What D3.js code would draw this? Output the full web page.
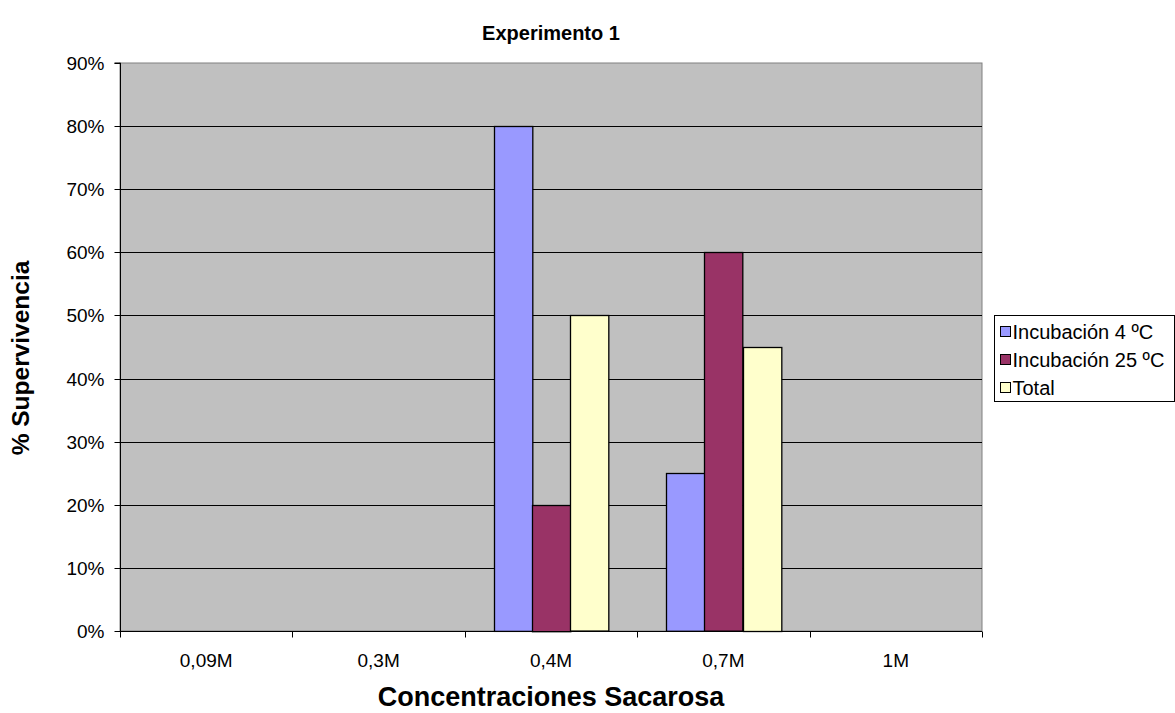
<!DOCTYPE html>
<html>
<head>
<meta charset="utf-8">
<script src="https://cdn.jsdelivr.net/npm/d3@7"></script>
<style>
  body { margin: 0; background: #fff; }
  svg { display: block; font-family: Arial, "Liberation Sans", sans-serif; }
</style>
</head>
<body>
<svg id="chart" width="1175" height="713"></svg>
<script>
// Survival per sucrose concentration, three incubation series
const categories = ["0,09M", "0,3M", "0,4M", "0,7M", "1M"];
const seriesNames = ["Incubación 4 ºC", "Incubación 25 ºC", "Total"];
const seriesColors = ["#9999FF", "#993366", "#FFFFCC"];
const incub4 = [null, null, 0.80, 0.25, null];
const incub25 = [null, null, 0.20, 0.60, null];
const total = [null, null, 0.50, 0.45, null];
const yTicks = [0, 0.1, 0.2, 0.3, 0.4, 0.5, 0.6, 0.7, 0.8, 0.9];

const seriesValues = [incub4, incub25, total];

const svg = d3.select("#chart");
const plot = { left: 120, top: 63, right: 982, bottom: 631 };

const x = d3.scaleBand().domain(categories).range([plot.left, plot.right]).paddingInner(0).paddingOuter(0);
// bars fill 3 of 4.5 bar-widths per category (gap width 150%)
const xInner = d3.scaleBand().domain(d3.range(seriesNames.length))
  .range([0, x.bandwidth()]).paddingInner(0).paddingOuter(0.75);
const y = d3.scaleLinear().domain([0, 0.9]).range([plot.bottom, plot.top]);

// plot background
svg.append("rect")
  .attr("x", plot.left).attr("y", plot.top)
  .attr("width", plot.right - plot.left).attr("height", plot.bottom - plot.top)
  .attr("fill", "#C0C0C0").attr("stroke", "#808080").attr("stroke-width", 1);

// horizontal gridlines
svg.append("g").selectAll("line").data(yTicks.filter(d => d > 0 && d < 0.9)).join("line")
  .attr("x1", plot.left).attr("x2", plot.right)
  .attr("y1", d => Math.round(y(d)) + 0.5).attr("y2", d => Math.round(y(d)) + 0.5)
  .attr("stroke", "#000").attr("stroke-width", 1);

// bars
const barData = [];
categories.forEach((c, i) => {
  seriesValues.forEach((vals, s) => {
    if (vals[i] != null) barData.push({ cat: c, s, v: vals[i] });
  });
});
svg.append("g").selectAll("rect").data(barData).join("rect")
  .attr("x", d => Math.round(x(d.cat) + xInner(d.s)) + 0.5)
  .attr("y", d => Math.round(y(d.v)) + 0.5)
  .attr("width", xInner.bandwidth())
  .attr("height", d => y(0) - y(d.v))
  .attr("fill", d => seriesColors[d.s])
  .attr("stroke", "#000").attr("stroke-width", 1.3);

// y axis
const yAxis = d3.axisLeft(y).tickValues(yTicks).tickFormat(d3.format(".0%")).tickSize(6).tickPadding(10);
const gy = svg.append("g").attr("transform", `translate(${plot.left + 0.5},0)`).call(yAxis);
gy.select(".domain").attr("stroke", "#000").attr("d", `M-6,${plot.top}H0V${plot.bottom}`);
gy.selectAll(".tick line").attr("stroke", "#000");
gy.selectAll(".tick text").attr("font-size", 19).attr("fill", "#000")
  .attr("font-family", "Arial, 'Liberation Sans', sans-serif");
gy.selectAll(".tick").attr("transform", d => `translate(0,${Math.round(y(d)) + 0.5})`);

// x axis with category separators
const gx = svg.append("g").attr("transform", `translate(0,${plot.bottom + 0.5})`);
gx.append("line").attr("x1", plot.left).attr("x2", plot.right).attr("stroke", "#000");
const seps = categories.map(c => x(c)).concat([plot.right]);
gx.selectAll("line.sep").data(seps).join("line").attr("class", "sep")
  .attr("x1", d => Math.round(d) + 0.5).attr("x2", d => Math.round(d) + 0.5)
  .attr("y1", 0).attr("y2", 6).attr("stroke", "#000");
gx.selectAll("text").data(categories).join("text")
  .attr("x", d => x(d) + x.bandwidth() / 2).attr("y", 35)
  .attr("text-anchor", "middle").attr("font-size", 19).attr("fill", "#000")
  .text(d => d);

// titles
svg.append("text").attr("x", 551).attr("y", 40).attr("text-anchor", "middle")
  .attr("font-size", 20).attr("font-weight", "bold").text("Experimento 1");
svg.append("text").attr("x", 551).attr("y", 706).attr("text-anchor", "middle")
  .attr("font-size", 27).attr("font-weight", "bold").text("Concentraciones Sacarosa");
svg.append("text").attr("transform", "translate(29,358) rotate(-90)")
  .attr("text-anchor", "middle").attr("font-size", 24.5).attr("font-weight", "bold")
  .text("% Supervivencia");

// legend
const lg = svg.append("g").attr("transform", "translate(994.5,315.5)");
lg.append("rect").attr("width", 180).attr("height", 86).attr("fill", "#fff").attr("stroke", "#000");
const items = lg.selectAll("g.item").data(seriesNames).join("g").attr("class", "item")
  .attr("transform", (d, i) => `translate(6,${16 + i * 28})`);
items.append("rect").attr("x", 0).attr("y", -5).attr("width", 10).attr("height", 10)
  .attr("fill", (d, i) => seriesColors[i]).attr("stroke", "#000");
items.append("text").attr("x", 12).attr("y", 0).attr("dy", "0.36em")
  .attr("font-size", 20).attr("fill", "#000").text(d => d);
</script>
</body>
</html>
